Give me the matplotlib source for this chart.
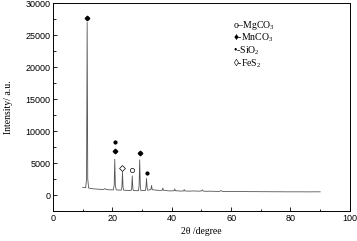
import matplotlib
matplotlib.use("Agg")
import matplotlib.pyplot as plt
from matplotlib.ticker import MultipleLocator

plt.rcParams['font.family'] = ['Liberation Serif', 'DejaVu Serif']
plt.rcParams['mathtext.fontset'] = 'custom'
plt.rcParams['mathtext.rm'] = 'Liberation Serif'

# XRD pattern (2theta in degree, intensity in a.u.)
two_theta = [10, 11.0, 11.3, 11.5, 11.7, 12.0, 13, 14, 15, 16, 17, 17.5, 18, 19,
             20.3, 20.6, 20.8, 21.0, 21.3, 22, 23.0, 23.2, 23.4, 23.6, 23.8, 24.5,
             25.5, 26.3, 26.5, 26.7, 26.9, 27.1, 28, 28.8, 29.0, 29.2, 29.4, 29.6,
             30.5, 31.1, 31.3, 31.5, 31.7, 31.9, 32.5, 33.0, 33.2, 33.4, 34, 35, 36,
             36.8, 37.0, 37.2, 38, 39, 40, 40.8, 41.0, 41.2, 42, 43, 44, 44.2, 44.4,
             45, 46, 47, 48, 49, 50, 50.3, 50.6, 51, 52, 53, 54, 55, 56, 56.6, 57,
             58, 60, 62, 64, 66, 68, 70, 72, 74, 76, 78, 80, 82, 84, 86, 88, 90]
intensity = [1200, 1150, 2500, 27000, 2500, 1100, 1000, 950, 920, 880, 870, 1000, 850, 820,
             800, 1500, 5600, 1500, 800, 780, 760, 1200, 3600, 1200, 750, 740,
             720, 700, 1000, 3000, 1000, 700, 680, 680, 1500, 5500, 1500, 680,
             700, 700, 1200, 2600, 1100, 750, 800, 900, 1500, 850, 800, 750, 720,
             750, 1100, 750, 700, 650, 650, 680, 950, 680, 650, 620, 640, 850, 640,
             620, 600, 640, 620, 600, 640, 800, 620, 600, 580, 600, 580, 570, 560, 700, 570,
             560, 550, 540, 540, 530, 530, 520, 520, 510, 510, 500, 500, 500, 500, 490, 500, 500]

# phase markers above peaks
mn_x = [11.5, 20.8, 29.2]
mn_y = [27700, 6900, 6600]
si_x = [20.8, 31.5]
si_y = [8300, 3500]
fe_x = [23.4]
fe_y = [4200]
mg_x = [26.7]
mg_y = [3900]

legend_labels = ['o\u2013MgCO$_3$', '\u2666-MnCO$_3$', '\u2022-SiO$_2$', '\u25ca-FeS$_2$']
legend_y = [26560, 24640, 22660, 20670]

fig = plt.figure(figsize=(3.57, 2.41), dpi=100)
ax = fig.add_axes([0.1485, 0.1245, 0.8315, 0.862])

ax.plot(two_theta, intensity, color='#555555', lw=0.6)
ax.plot(mn_x, mn_y, 'D', color='black', ms=2.3)
ax.plot(si_x, si_y, 'o', color='black', ms=2.0)
ax.plot(fe_x, fe_y, 'D', mfc='white', mec='black', mew=0.5, ms=3)
ax.plot(mg_x, mg_y, 'o', mfc='white', mec='black', mew=0.5, ms=3)

for lab, y in zip(legend_labels, legend_y):
	ax.text(60.5, y, lab, fontsize=7, va='center', ha='left')

ax.set_xlim(0, 100)
ax.set_ylim(-2500, 30000)
ax.xaxis.set_major_locator(MultipleLocator(20))
ax.xaxis.set_minor_locator(MultipleLocator(10))
ax.yaxis.set_major_locator(MultipleLocator(5000))
ax.yaxis.set_minor_locator(MultipleLocator(2500))
ax.tick_params(which='both', direction='in', labelsize=6.5, width=0.6, pad=2)
ax.tick_params(which='major', length=3)
ax.tick_params(which='minor', length=1.8)
for lbl in ax.get_xticklabels() + ax.get_yticklabels():
	lbl.set_family('Liberation Sans')
for s in ax.spines.values():
	s.set_linewidth(0.7)

ax.set_xlabel('2\u03b8 /degree', fontsize=7, labelpad=3)
ax.set_ylabel('Intensity/ a.u.', fontsize=7, labelpad=9)

fig.savefig('out.png', dpi=100)
